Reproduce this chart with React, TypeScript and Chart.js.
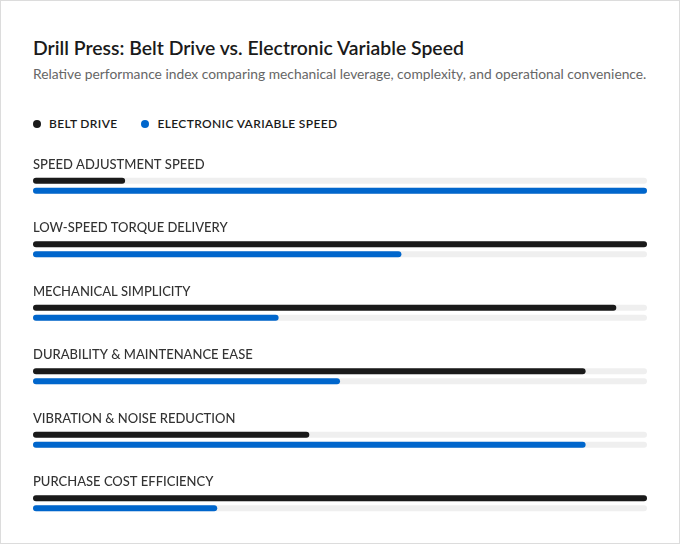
import React, { useEffect, useRef } from "react";
import { Chart, registerables } from "chart.js";

Chart.register(...registerables);

const categories = [
  "SPEED ADJUSTMENT SPEED",
  "LOW-SPEED TORQUE DELIVERY",
  "MECHANICAL SIMPLICITY",
  "DURABILITY & MAINTENANCE EASE",
  "VIBRATION & NOISE REDUCTION",
  "PURCHASE COST EFFICIENCY",
];
const beltDrive = [15, 100, 95, 90, 45, 100];
const electronicVS = [100, 60, 40, 50, 90, 30];
const seriesNames = ["BELT DRIVE", "ELECTRONIC VARIABLE SPEED"];
const seriesColors = ["#1a1a1a", "#0066cc"];
const scaleMax = 100;

const FONT = "Lato, 'Noto Sans', sans-serif";

// Grey full-length tracks behind each bar, plus category captions above each group
const trackAndLabels = {
  id: "trackAndLabels",
  beforeDatasetsDraw(chart: any) {
    const { ctx, scales } = chart;
    const x0 = scales.x.getPixelForValue(0);
    const x1 = scales.x.getPixelForValue(scaleMax);
    ctx.save();
    ctx.fillStyle = "#efefef";
    chart.data.datasets.forEach((_: any, di: number) => {
      const meta = chart.getDatasetMeta(di);
      meta.data.forEach((bar: any) => {
        const h = bar.height;
        ctx.beginPath();
        ctx.roundRect(x0, bar.y - h / 2, x1 - x0, h, h / 2);
        ctx.fill();
      });
    });
    ctx.fillStyle = "#333333";
    ctx.font = `500 13px ${FONT}`;
    (ctx as any).letterSpacing = "0px";
    ctx.textBaseline = "middle";
    ctx.textAlign = "left";
    categories.forEach((label, i) => {
      const y = scales.y.getPixelForValue(i);
      ctx.fillText(label, chart.chartArea.left, y - 21);
    });
    ctx.restore();
  },
};

function BarsChart() {
  const ref = useRef<HTMLCanvasElement | null>(null);
  useEffect(() => {
    if (!ref.current) return;
    const chart = new Chart(ref.current, {
      type: "bar",
      data: {
        labels: categories,
        datasets: [
          { label: seriesNames[0], data: beltDrive, backgroundColor: seriesColors[0] },
          { label: seriesNames[1], data: electronicVS, backgroundColor: seriesColors[1] },
        ],
      },
      options: {
        indexAxis: "y",
        animation: false,
        responsive: false,
        maintainAspectRatio: false,
        layout: { padding: 0 },
        datasets: {
          bar: {
            categoryPercentage: 0.315,
            barPercentage: 0.6,
            borderRadius: 3,
            borderSkipped: false,
          },
        },
        scales: {
          x: { display: false, min: 0, max: scaleMax },
          y: { display: false, offset: true },
        },
        plugins: {
          legend: { display: false },
          tooltip: { enabled: false },
        },
      },
      plugins: [trackAndLabels],
    });
    return () => chart.destroy();
  }, []);
  return (
    <canvas
      ref={ref}
      width={614}
      height={381}
      style={{ position: "absolute", left: 32, top: 153, width: 614, height: 381 }}
    />
  );
}

export default function App() {
  useEffect(() => {
    document.body.style.margin = "0";
  }, []);
  return (
    <div
      style={{
        position: "fixed",
        left: 0,
        top: 0,
        width: 680,
        height: 544,
        boxSizing: "border-box",
        border: "1px solid #dcdcdc",
        background: "#ffffff",
        fontFamily: FONT,
      }}
    >
      <div
        style={{
          position: "absolute",
          left: 32,
          top: 35,
          fontSize: 19.4,
          lineHeight: "24px",
          fontWeight: 600,
          color: "#1a1a1a",
          whiteSpace: "nowrap",
        }}
      >
        Drill Press: Belt Drive vs. Electronic Variable Speed
      </div>
      <div
        style={{
          position: "absolute",
          left: 32,
          top: 64,
          fontSize: 13.8,
          lineHeight: "18px",
          color: "#666666",
          whiteSpace: "nowrap",
        }}
      >
        Relative performance index comparing mechanical leverage, complexity, and operational convenience.
      </div>
      <div
        style={{
          position: "absolute",
          left: 32,
          top: 115,
          display: "flex",
          alignItems: "center",
          fontSize: 12,
          lineHeight: "16px",
          fontWeight: 600,
          letterSpacing: "0.35px",
          color: "#1a1a1a",
          whiteSpace: "nowrap",
        }}
      >
        {seriesNames.map((name, i) => (
          <span key={name} style={{ display: "flex", alignItems: "center", marginRight: 24 }}>
            <span
              style={{
                display: "inline-block",
                width: 8,
                height: 8,
                borderRadius: 4,
                background: seriesColors[i],
                marginRight: 8,
              }}
            />
            {name}
          </span>
        ))}
      </div>
      <BarsChart />
    </div>
  );
}
